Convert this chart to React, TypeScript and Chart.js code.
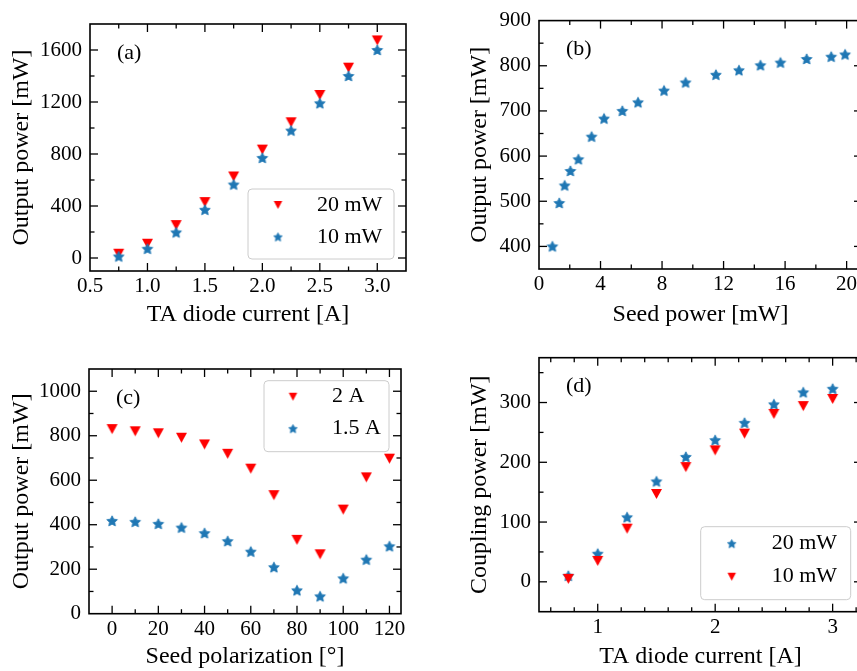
import React, { useEffect, useRef } from "react";
import { Chart, registerables } from "chart.js";

Chart.register(...registerables);

const SERIF = "'Liberation Serif', 'Times New Roman', serif";
const RED = "#ff0000";
const BLUE = "#1f77b4";

// ---------- (a) output power vs TA current ----------
const aCurrent = [0.75, 1.0, 1.25, 1.5, 1.75, 2.0, 2.25, 2.5, 2.75, 3.0];
const aOut20mW = [33, 110, 253, 430, 627, 834, 1044, 1254, 1464, 1674];
const aOut10mW = [12, 71, 197, 371, 565, 770, 980, 1190, 1400, 1600];
const aXTicks = [0.5, 1.0, 1.5, 2.0, 2.5, 3.0];
const aYTicks = [0, 400, 800, 1200, 1600];

// ---------- (b) output power vs seed power ----------
const bSeed = [0.87, 1.32, 1.67, 2.04, 2.56, 3.42, 4.23, 5.42, 6.44, 8.13, 9.53, 11.5, 13.0, 14.4, 15.7, 17.4, 19.0, 19.9];
const bOut = [400, 496, 535, 567, 593, 643, 683, 700, 719, 745, 763, 780, 790, 801, 807, 815, 820, 825];
const bXTicks = [0, 4, 8, 12, 16, 20];
const bYTicks = [400, 500, 600, 700, 800, 900];

// ---------- (c) output power vs seed polarization ----------
const cPol = [0, 10, 20, 30, 40, 50, 60, 70, 80, 90, 100, 110, 120];
const cOut2A = [830, 820, 811, 791, 761, 719, 652, 533, 332, 267, 468, 613, 697];
const cOut15A = [417, 413, 404, 387, 362, 326, 279, 209, 105, 78, 159, 243, 303];
const cXTicks = [0, 20, 40, 60, 80, 100, 120];
const cYTicks = [0, 200, 400, 600, 800, 1000];

// ---------- (d) coupling power vs TA current ----------
const dCurrent = [0.75, 1.0, 1.25, 1.5, 1.75, 2.0, 2.25, 2.5, 2.75, 3.0];
const dCoup20mW = [10, 47, 108, 168, 209, 237, 266, 297, 317, 323];
const dCoup10mW = [5, 35, 89, 147, 192, 220, 248, 281, 294, 306];
const dXTicks = [1, 2, 3];
const dYTicks = [0, 100, 200, 300];

type Series = { label: string; x: number[]; y: number[]; marker: "tri" | "star"; color: string };
type LegendBox = { x: number; y: number; w: number; h: number; markerDx: number; textDx: number; rows: number[] };
type PanelCfg = {
  key: string;
  left: number;
  top: number;
  width: number;
  height: number;
  area: { l: number; r: number; t: number; b: number };
  xMin: number;
  xMax: number;
  yMin: number;
  yMax: number;
  xTicks: number[];
  yTicks: number[];
  xMinorStep: number;
  yMinorStep: number;
  xDecimals: number;
  xTitle: string;
  yTitle: string;
  xTitleY: number;
  yTitleX: number;
  tag: string;
  series: Series[];
  legendOrder: number[];
  legend?: LegendBox;
};

const PANELS: PanelCfg[] = [
  {
    key: "a",
    left: 0,
    top: 0,
    width: 430,
    height: 335,
    area: { l: 90, r: 406, t: 24, b: 271 },
    xMin: 0.5,
    xMax: 3.25,
    yMin: -100,
    yMax: 1800,
    xTicks: aXTicks,
    yTicks: aYTicks,
    xMinorStep: 0.25,
    yMinorStep: 200,
    xDecimals: 1,
    xTitle: "TA diode current [A]",
    yTitle: "Output power [mW]",
    xTitleY: 315,
    yTitleX: 22,
    tag: "(a)",
    series: [
      { label: "20 mW", x: aCurrent, y: aOut20mW, marker: "tri", color: RED },
      { label: "10 mW", x: aCurrent, y: aOut10mW, marker: "star", color: BLUE },
    ],
    legendOrder: [0, 1],
    legend: { x: 248, y: 189, w: 146, h: 70, markerDx: 30, textDx: 69, rows: [16, 48] },
  },
  {
    key: "b",
    left: 430,
    top: 0,
    width: 440,
    height: 335,
    area: { l: 109, r: 432, t: 15, b: 269 },
    xMin: 0,
    xMax: 21,
    yMin: 350,
    yMax: 900,
    xTicks: bXTicks,
    yTicks: bYTicks,
    xMinorStep: 2,
    yMinorStep: 50,
    xDecimals: 0,
    xTitle: "Seed power [mW]",
    yTitle: "Output power [mW]",
    xTitleY: 315,
    yTitleX: 50,
    tag: "(b)",
    series: [{ label: "seed", x: bSeed, y: bOut, marker: "star", color: BLUE }],
    legendOrder: [],
  },
  {
    key: "c",
    left: 0,
    top: 335,
    width: 430,
    height: 336,
    area: { l: 89, r: 401, t: 34, b: 278.7 },
    xMin: -10,
    xMax: 125,
    yMin: 0,
    yMax: 1100,
    xTicks: cXTicks,
    yTicks: cYTicks,
    xMinorStep: 10,
    yMinorStep: 100,
    xDecimals: 0,
    xTitle: "Seed polarization [°]",
    yTitle: "Output power [mW]",
    xTitleY: 323,
    yTitleX: 22,
    tag: "(c)",
    series: [
      { label: "2 A", x: cPol, y: cOut2A, marker: "tri", color: RED },
      { label: "1.5 A", x: cPol, y: cOut15A, marker: "star", color: BLUE },
    ],
    legendOrder: [0, 1],
    legend: { x: 264, y: 45.7, w: 125, h: 71, markerDx: 29, textDx: 68, rows: [16, 48] },
  },
  {
    key: "d",
    left: 430,
    top: 335,
    width: 440,
    height: 336,
    area: { l: 109, r: 432, t: 22.7, b: 276.7 },
    xMin: 0.5,
    xMax: 3.25,
    yMin: -50,
    yMax: 375,
    xTicks: dXTicks,
    yTicks: dYTicks,
    xMinorStep: 0.2,
    yMinorStep: 50,
    xDecimals: 0,
    xTitle: "TA diode current [A]",
    yTitle: "Coupling power [mW]",
    xTitleY: 322,
    yTitleX: 50,
    tag: "(d)",
    series: [
      { label: "20 mW", x: dCurrent, y: dCoup20mW, marker: "star", color: BLUE },
      { label: "10 mW", x: dCurrent, y: dCoup10mW, marker: "tri", color: RED },
    ],
    legendOrder: [0, 1],
    legend: { x: 270.7, y: 191.7, w: 150, h: 73, markerDx: 31, textDx: 71, rows: [17, 50] },
  },
];

function makeTriangle(w: number, h: number, color: string): HTMLCanvasElement {
  const c = document.createElement("canvas");
  c.width = Math.ceil(w) + 2;
  c.height = Math.ceil(h) + 2;
  const g = c.getContext("2d")!;
  const cx = c.width / 2;
  const cy = c.height / 2;
  g.fillStyle = color;
  g.beginPath();
  g.moveTo(cx - w / 2, cy - h / 2);
  g.lineTo(cx + w / 2, cy - h / 2);
  g.lineTo(cx, cy + h / 2);
  g.closePath();
  g.fill();
  return c;
}

function makeStar(r: number, color: string): HTMLCanvasElement {
  const c = document.createElement("canvas");
  const size = Math.ceil(2 * r) + 2;
  c.width = size;
  c.height = size;
  const g = c.getContext("2d")!;
  const cx = size / 2;
  const cy = size / 2 + r * 0.08;
  g.fillStyle = color;
  g.strokeStyle = color;
  g.lineWidth = 0.8;
  g.lineJoin = "round";
  g.beginPath();
  for (let i = 0; i < 10; i++) {
    const ang = -Math.PI / 2 + (i * Math.PI) / 5;
    const rad = i % 2 === 0 ? r : r * 0.5;
    const px = cx + rad * Math.cos(ang);
    const py = cy + rad * Math.sin(ang);
    if (i === 0) g.moveTo(px, py);
    else g.lineTo(px, py);
  }
  g.closePath();
  g.fill();
  g.stroke();
  return c;
}

function markerImage(s: Series, legend: boolean): HTMLCanvasElement {
  if (s.marker === "tri") return legend ? makeTriangle(8.5, 8, s.color) : makeTriangle(11, 10, s.color);
  return legend ? makeStar(4.5, s.color) : makeStar(5.6, s.color);
}

function framePlugin(cfg: PanelCfg) {
  return {
    id: "frame_" + cfg.key,
    afterDraw(chart: any) {
      const { ctx, chartArea } = chart;
      const { left, right, top, bottom } = chartArea;
      const xs = chart.scales.x;
      const ys = chart.scales.y;
      ctx.save();
      ctx.strokeStyle = "#000";
      ctx.lineCap = "butt";
      const seg = (x1: number, y1: number, x2: number, y2: number) => {
        ctx.beginPath();
        ctx.moveTo(x1, y1);
        ctx.lineTo(x2, y2);
        ctx.stroke();
      };
      const isMajor = (v: number, arr: number[]) => arr.some((t) => Math.abs(t - v) < 1e-6);
      const MAJ = 8;
      const MIN = 4.5;
      ctx.lineWidth = 1.3;
      const xTick = (v: number, len: number) => {
        const p = xs.getPixelForValue(v);
        if (p <= left + 1 || p >= right - 1) return;
        seg(p, bottom, p, bottom - len);
        seg(p, top, p, top + len);
      };
      const yTick = (v: number, len: number) => {
        const p = ys.getPixelForValue(v);
        if (p <= top + 1 || p >= bottom - 1) return;
        seg(left, p, left + len, p);
        seg(right, p, right - len, p);
      };
      cfg.xTicks.forEach((v) => xTick(v, MAJ));
      cfg.yTicks.forEach((v) => yTick(v, MAJ));
      for (let k = Math.ceil(cfg.xMin / cfg.xMinorStep - 1e-9); k * cfg.xMinorStep <= cfg.xMax + 1e-9; k++) {
        const v = k * cfg.xMinorStep;
        if (!isMajor(v, cfg.xTicks)) xTick(v, MIN);
      }
      for (let k = Math.ceil(cfg.yMin / cfg.yMinorStep - 1e-9); k * cfg.yMinorStep <= cfg.yMax + 1e-9; k++) {
        const v = k * cfg.yMinorStep;
        if (!isMajor(v, cfg.yTicks)) yTick(v, MIN);
      }
      ctx.lineWidth = 1.6;
      ctx.strokeRect(left, top, right - left, bottom - top);

      ctx.fillStyle = "#000";
      ctx.font = `22px ${SERIF}`;
      ctx.textBaseline = "middle";
      ctx.textAlign = "left";
      ctx.fillText(cfg.tag, left + 27, top + 29);

      const L = cfg.legend;
      if (L) {
        const rad = 4;
        ctx.beginPath();
        ctx.moveTo(L.x + rad, L.y);
        ctx.lineTo(L.x + L.w - rad, L.y);
        ctx.arcTo(L.x + L.w, L.y, L.x + L.w, L.y + rad, rad);
        ctx.lineTo(L.x + L.w, L.y + L.h - rad);
        ctx.arcTo(L.x + L.w, L.y + L.h, L.x + L.w - rad, L.y + L.h, rad);
        ctx.lineTo(L.x + rad, L.y + L.h);
        ctx.arcTo(L.x, L.y + L.h, L.x, L.y + L.h - rad, rad);
        ctx.lineTo(L.x, L.y + rad);
        ctx.arcTo(L.x, L.y, L.x + rad, L.y, rad);
        ctx.closePath();
        ctx.fillStyle = "rgba(255,255,255,0.8)";
        ctx.fill();
        ctx.strokeStyle = "#cccccc";
        ctx.lineWidth = 1;
        ctx.stroke();
        cfg.legendOrder.forEach((si, row) => {
          const s = cfg.series[si];
          const img = markerImage(s, true);
          const my = L.y + L.rows[row];
          ctx.drawImage(img, L.x + L.markerDx - img.width / 2, my - img.height / 2);
          ctx.fillStyle = "#000";
          ctx.font = `22px ${SERIF}`;
          ctx.textBaseline = "middle";
          ctx.textAlign = "left";
          ctx.fillText(s.label, L.x + L.textDx, my);
        });
      }
      ctx.restore();
    },
  };
}

function buildConfig(cfg: PanelCfg): any {
  const tickFont = { family: SERIF, size: 21 };
  const titleSize = 24;
  const titleFont = { family: SERIF, size: titleSize };
  const lh = titleSize * 1.2;
  return {
    type: "scatter",
    data: {
      datasets: cfg.series.map((s, i) => ({
        label: s.label,
        data: s.x.map((xv, j) => ({ x: xv, y: s.y[j] })),
        pointStyle: markerImage(s, false),
        pointRadius: 5,
        pointBackgroundColor: s.color,
        pointBorderColor: s.color,
        showLine: false,
        order: -i,
        clip: 8,
      })),
    },
    options: {
      animation: false,
      responsive: false,
      maintainAspectRatio: false,
      events: [],
      layout: { padding: { left: 0, top: cfg.area.t, right: cfg.width - cfg.area.r, bottom: 0 } },
      plugins: { legend: { display: false }, tooltip: { enabled: false } },
      scales: {
        x: {
          type: "linear",
          position: "bottom",
          min: cfg.xMin,
          max: cfg.xMax,
          afterBuildTicks: (s: any) => {
            s.ticks = cfg.xTicks.map((v) => ({ value: v }));
          },
          afterFit: (s: any) => {
            s.height = cfg.height - cfg.area.b;
          },
          grid: { display: false, drawTicks: false },
          border: { display: false },
          ticks: {
            font: tickFont,
            color: "#000",
            padding: 3,
            maxRotation: 0,
            autoSkip: false,
            callback: (v: any) => Number(v).toFixed(cfg.xDecimals),
          },
          title: {
            display: true,
            text: cfg.xTitle,
            font: titleFont,
            color: "#000",
            padding: { top: 0, bottom: Math.max(0, cfg.height - cfg.xTitleY - lh / 2) },
          },
        },
        y: {
          type: "linear",
          position: "left",
          min: cfg.yMin,
          max: cfg.yMax,
          afterBuildTicks: (s: any) => {
            s.ticks = cfg.yTicks.map((v) => ({ value: v }));
          },
          afterFit: (s: any) => {
            s.width = cfg.area.l;
          },
          grid: { display: false, drawTicks: false },
          border: { display: false },
          ticks: {
            font: tickFont,
            color: "#000",
            padding: 8,
            autoSkip: false,
            callback: (v: any) => String(Math.round(Number(v))),
          },
          title: {
            display: true,
            text: cfg.yTitle,
            font: titleFont,
            color: "#000",
            padding: { top: Math.max(0, cfg.yTitleX - lh / 2), bottom: 0 },
          },
        },
      },
    },
    plugins: [framePlugin(cfg)],
  };
}

function Panel({ cfg }: { cfg: PanelCfg }) {
  const ref = useRef<HTMLCanvasElement>(null);
  useEffect(() => {
    const chart = new Chart(ref.current as HTMLCanvasElement, buildConfig(cfg));
    return () => chart.destroy();
  }, [cfg]);
  return (
    <canvas
      ref={ref}
      width={cfg.width}
      height={cfg.height}
      style={{ position: "absolute", left: cfg.left, top: cfg.top, width: cfg.width, height: cfg.height }}
    />
  );
}

export default function App() {
  return (
    <div
      style={{
        position: "fixed",
        left: 0,
        top: 0,
        width: 857,
        height: 671,
        overflow: "hidden",
        background: "#fff",
      }}
    >
      {PANELS.map((p) => (
        <Panel key={p.key} cfg={p} />
      ))}
    </div>
  );
}
